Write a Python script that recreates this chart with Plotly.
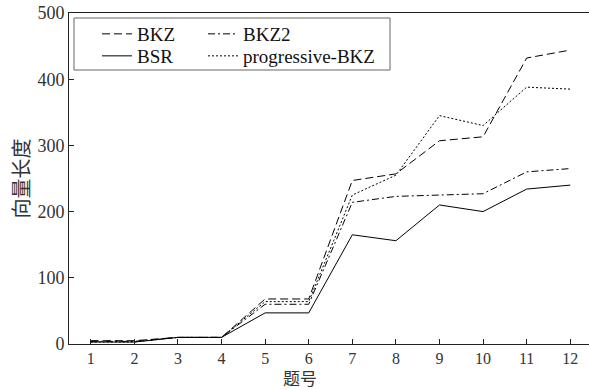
import plotly.graph_objects as go

x = list(range(1, 13))
bkz = [5, 5, 10, 10, 68, 68, 247, 257, 307, 313, 432, 444]
bkz2 = [4, 4, 10, 10, 60, 60, 214, 223, 225, 227, 260, 265]
bsr = [3, 3, 10, 10, 47, 47, 165, 156, 210, 200, 234, 240]
pbkz = [3, 3, 10, 10, 64, 64, 225, 255, 345, 330, 388, 385]
x_title = "题号"
y_title = "向量长度"

font_family = "Liberation Serif"
cjk_family = "Noto Sans CJK SC"

fig = go.Figure()
series = [
    ("BKZ", bkz, "8px,4px", "legend"),
    ("BKZ2", bkz2, "7px,3px,2px,3px", "legend2"),
    ("BSR", bsr, "solid", "legend3"),
    ("progressive-BKZ", pbkz, "2px,2px", "legend4"),
]
for name, ys, dash, lg in series:
    fig.add_trace(go.Scatter(x=x, y=ys, mode="lines", name=name, legend=lg,
                             line=dict(color="black", width=1, dash=dash)))

L, T, W, H = 69, 13, 520, 331
def px2x(p):
    return (p - L) / W
def py2y(p):
    return (T + H - p) / H

def leg(xp, yp):
    return dict(x=px2x(xp), y=py2y(yp), xanchor="left", yanchor="middle",
                bgcolor="rgba(0,0,0,0)", borderwidth=0,
                font=dict(size=19, family=font_family, color="#111"))

fig.update_layout(
    width=589, height=390,
    margin=dict(l=L, r=0, t=T, b=390 - T - H),
    paper_bgcolor="white", plot_bgcolor="white",
    font=dict(family=font_family, size=18, color="#222"),
    showlegend=True,
    legend=leg(97, 34),
    legend2=leg(203, 34),
    legend3=leg(97, 56),
    legend4=leg(203, 56),
    shapes=[dict(type="rect", xref="paper", yref="paper",
                 x0=px2x(74), x1=px2x(390), y0=py2y(70), y1=py2y(18),
                 line=dict(color="#666", width=1))],
    annotations=[dict(text=x_title, xref="paper", yref="paper",
                      x=px2x(300), y=py2y(377), xanchor="center", yanchor="middle",
                      showarrow=False, borderpad=0,
                      font=dict(size=17, family=cjk_family, color="#333"))],
)
fig.update_xaxes(range=[0.5, 12.43], tickvals=x, ticks="inside", ticklen=5,
                 showline=True, linecolor="#222", linewidth=1, mirror=True,
                 showgrid=False, zeroline=False, tickcolor="#222",
                 tickfont=dict(size=16, color="#333", family=font_family))
fig.update_yaxes(range=[0, 500], tickvals=[0, 100, 200, 300, 400, 500],
                 ticks="inside", ticklen=5, showline=True, linecolor="#222",
                 linewidth=1, showgrid=False, zeroline=False, tickcolor="#222",
                 tickfont=dict(size=18, color="#333", family=font_family),
                 title=dict(text=y_title, standoff=2,
                            font=dict(size=20, family=cjk_family, color="#333")))

fig.write_html("out.html")
